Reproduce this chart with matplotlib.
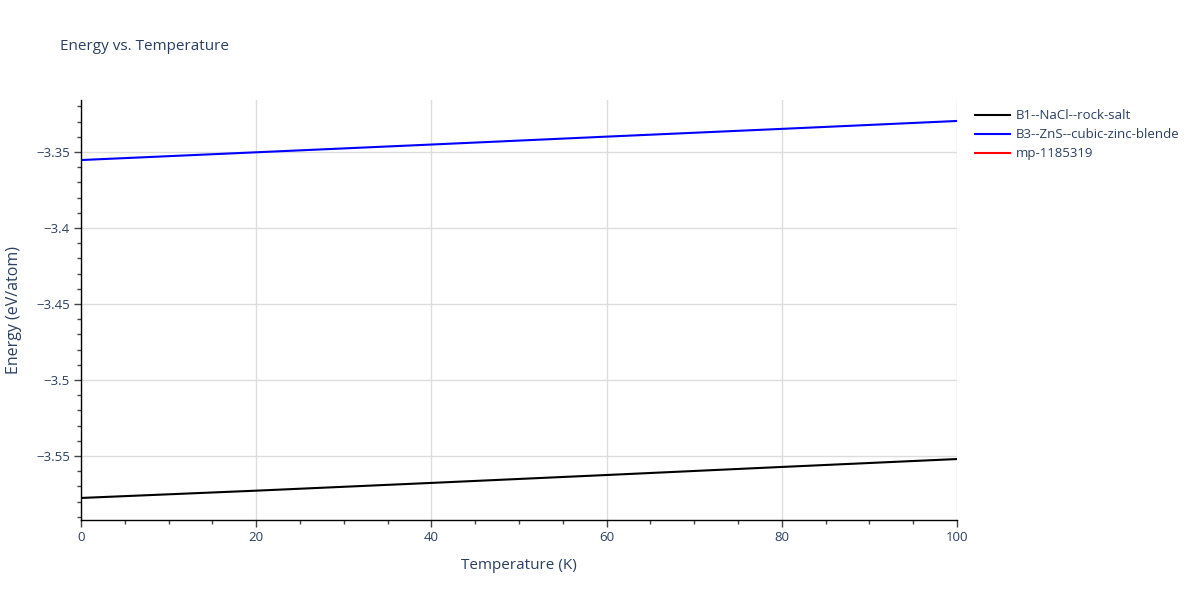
import numpy as np
import matplotlib.pyplot as plt
from matplotlib.ticker import MultipleLocator

# datos
temperatura = [0, 20, 40, 60, 80, 100]
energia_b1 = [-3.5776, -3.5728, -3.5677, -3.5625, -3.5572, -3.5520]
energia_b3 = [-3.3553, -3.3502, -3.3451, -3.3399, -3.3348, -3.3296]
energia_mp = []  # no se ve en la grafica

yticks = [-3.55, -3.5, -3.45, -3.4, -3.35]
ytick_labels = ["\u22123.55", "\u22123.5", "\u22123.45", "\u22123.4", "\u22123.35"]
xticks = [0, 20, 40, 60, 80, 100]

texto = '#2a3f5f'
plt.rcParams['font.family'] = ['Open Sans', 'DejaVu Sans']

fig = plt.figure(figsize=(12, 6), dpi=100)
ax = fig.add_axes([81/1200, 1 - 520/600, (957 - 81)/1200, 420/600])

ax.plot(temperatura, energia_b1, color='black', lw=1.5, label='B1--NaCl--rock-salt', zorder=3)
ax.plot(temperatura, energia_b3, color='blue', lw=1.5, label='B3--ZnS--cubic-zinc-blende', zorder=3)
ax.plot(temperatura[:len(energia_mp)], energia_mp, color='red', lw=1.5, label='mp-1185319', zorder=3)

ax.set_xlim(0, 100)
ax.set_ylim(-3.5921, -3.3158)
ax.set_xticks(xticks)
ax.set_xticklabels([str(t) for t in xticks])
ax.set_yticks(yticks)
ax.set_yticklabels(ytick_labels)
ax.xaxis.set_minor_locator(MultipleLocator(5))
ax.yaxis.set_minor_locator(MultipleLocator(0.01))

ax.grid(True, which='major', color='#dddddd', lw=1, zorder=0)
for s in ['top', 'right']:
    ax.spines[s].set_visible(False)
for s in ['left', 'bottom']:
    ax.spines[s].set_color('black')
    ax.spines[s].set_linewidth(1)

ax.tick_params(which='major', direction='out', length=5, width=1, color='#444444',
               labelsize=9.5, labelcolor=texto, pad=3)
ax.tick_params(which='minor', direction='out', length=3, width=1, color='#444444')

ax.set_xlabel('Temperature (K)', fontsize=11, color=texto, labelpad=10)
ax.set_ylabel('Energy (eV/atom)', fontsize=11.5, color=texto, labelpad=10)

fig.text(60/1200, 1 - 46/600, 'Energy vs. Temperature', fontsize=11, color=texto, va='center')

ax.legend(loc='upper left', bbox_to_anchor=(970/1200, 1 - 104/600), bbox_transform=fig.transFigure,
          frameon=False, fontsize=9.5, labelcolor=texto, handlelength=2.6, handletextpad=0.5,
          labelspacing=0.45, borderaxespad=0)

fig.savefig('out.png', dpi=100)
